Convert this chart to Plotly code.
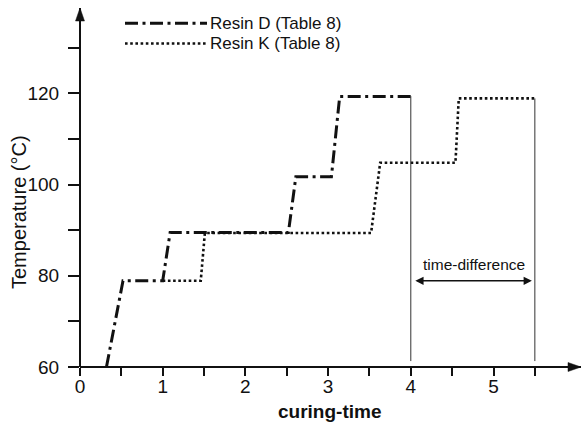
import plotly.graph_objects as go

# Curing schedules: time (curing-time units) vs. temperature (°C)
resin_d_time = [0.32, 0.52, 1.00, 1.09, 2.52, 2.61, 3.04, 3.14, 4.05]
resin_d_temp = [60.0, 78.9, 78.9, 89.5, 89.5, 101.7, 101.7, 119.3, 119.3]

# Resin K follows Resin D up to t = 1.0, then continues on its own schedule
resin_k_time = [1.00, 1.46, 1.51, 3.52, 3.63, 4.54, 4.58, 5.52]
resin_k_temp = [78.9, 78.9, 89.4, 89.4, 104.8, 104.8, 118.9, 118.9]

series_names = ["Resin D (Table 8)", "Resin K (Table 8)"]

# End-of-cure markers and the gap between them
finish_times = [4.0, 5.5]
finish_tops = [119.4, 118.9]
marker_bottom = 61.3
gap_level = 78.9
gap_label = "time-difference"

x_tick_vals = [0, 0.5, 1, 1.5, 2, 2.5, 3, 3.5, 4, 4.5, 5, 5.5]
x_tick_text = ["0", "", "1", "", "2", "", "3", "", "4", "", "5", ""]
y_tick_vals = [60, 70, 80, 90, 100, 110, 120, 130]
y_tick_text = ["60", "", "80", "", "100", "", "120", ""]

x_title = "curing-time"
y_title = "Temperature (°C)"

W, H = 581, 424
ML, MR, MT, MB = 80, 0, 8, 57
PW, PH = W - ML - MR, H - MT - MB
FONT = "Liberation Sans, Arial, Helvetica, sans-serif"
INK = "#111111"
DASH_D = "13px,4.5px,3px,4.5px"
DASH_K = "2.6px,2.6px"


def px_x(px):
    return (px - ML) / PW


def px_y(py):
    return (H - MB - py) / PH


fig = go.Figure()

fig.add_trace(go.Scatter(
    x=resin_k_time, y=resin_k_temp, mode="lines", name=series_names[1],
    line=dict(color=INK, width=2.6, dash=DASH_K), showlegend=False,
))
fig.add_trace(go.Scatter(
    x=resin_d_time, y=resin_d_temp, mode="lines", name=series_names[0],
    line=dict(color=INK, width=3, dash=DASH_D), showlegend=False,
))

shapes = []
# thin end-of-cure markers
for t, top in zip(finish_times, finish_tops):
    shapes.append(dict(type="line", xref="x", yref="y", x0=t, x1=t,
                       y0=marker_bottom, y1=top,
                       line=dict(color="#333333", width=1)))

# axis lines with arrow heads
shapes.append(dict(type="line", xref="paper", yref="paper", x0=0, x1=0, y0=0, y1=1,
                   line=dict(color=INK, width=2)))
shapes.append(dict(type="line", xref="paper", yref="paper", x0=0, x1=1, y0=0, y1=0,
                   line=dict(color=INK, width=2)))
shapes.append(dict(type="path", xref="paper", yref="paper",
                   xsizemode="pixel", ysizemode="pixel", xanchor=0, yanchor=1,
                   path="M0,0 L-4.5,-13 L4.5,-13 Z",
                   fillcolor=INK, line=dict(color=INK, width=0.5)))
shapes.append(dict(type="path", xref="paper", yref="paper",
                   xsizemode="pixel", ysizemode="pixel", xanchor=1, yanchor=0,
                   path="M0,0 L-13,4.5 L-13,-4.5 Z",
                   fillcolor=INK, line=dict(color=INK, width=0.5)))

# legend samples
legend_rows = [(23.3, DASH_D, 3), (43.5, DASH_K, 2.6)]
for (py, dash, w) in legend_rows:
    shapes.append(dict(type="line", xref="paper", yref="paper",
                       x0=px_x(125), x1=px_x(207), y0=px_y(py), y1=px_y(py),
                       line=dict(color=INK, width=w, dash=dash)))

annotations = []
for (py, _, _), name in zip(legend_rows, series_names):
    annotations.append(dict(xref="paper", yref="paper", x=px_x(208), y=px_y(py),
                            xanchor="left", yanchor="middle", showarrow=False,
                            text=name, font=dict(family=FONT, size=17, color=INK)))

# double-headed arrow between the end-of-cure markers
annotations.append(dict(xref="x", yref="y", axref="x", ayref="y",
                        x=finish_times[1], y=gap_level,
                        ax=finish_times[0], ay=gap_level,
                        text="", showarrow=True, arrowside="end+start",
                        arrowhead=2, arrowsize=1.1, arrowwidth=1.5, arrowcolor=INK,
                        standoff=3, startstandoff=3))
annotations.append(dict(xref="x", yref="y",
                        x=(finish_times[0] + finish_times[1]) / 2 + 0.01, y=gap_level,
                        yshift=16, xanchor="center", yanchor="middle",
                        showarrow=False, text=gap_label,
                        font=dict(family=FONT, size=15.5, color=INK)))

# axis titles
annotations.append(dict(xref="paper", yref="paper", x=px_x(19), y=px_y(212),
                        xanchor="center", yanchor="middle", textangle=-90,
                        showarrow=False, text=y_title,
                        font=dict(family=FONT, size=20, color=INK)))
annotations.append(dict(xref="paper", yref="paper", x=px_x(329), y=px_y(411.5),
                        xanchor="center", yanchor="middle",
                        showarrow=False, text="<b>" + x_title + "</b>",
                        font=dict(family=FONT, size=19, color=INK)))

fig.update_layout(
    width=W, height=H,
    margin=dict(l=ML, r=MR, t=MT, b=MB, pad=0),
    paper_bgcolor="white", plot_bgcolor="white",
    shapes=shapes, annotations=annotations,
    showlegend=False,
    xaxis=dict(range=[0, PW / 82.7], showgrid=False, zeroline=False, showline=False,
               tickmode="array", tickvals=x_tick_vals, ticktext=x_tick_text,
               ticks="outside", ticklen=8, tickwidth=1.6, tickcolor=INK,
               tickfont=dict(family=FONT, size=19, color=INK), ticklabelstandoff=-6),
    yaxis=dict(range=[60, 60 + PH / 4.56], showgrid=False, zeroline=False, showline=False,
               tickmode="array", tickvals=y_tick_vals, ticktext=y_tick_text,
               ticks="outside", ticklen=11, tickwidth=1.6, tickcolor=INK,
               tickfont=dict(family=FONT, size=19, color=INK), ticklabelstandoff=5),
)

fig.write_html("out.html")
